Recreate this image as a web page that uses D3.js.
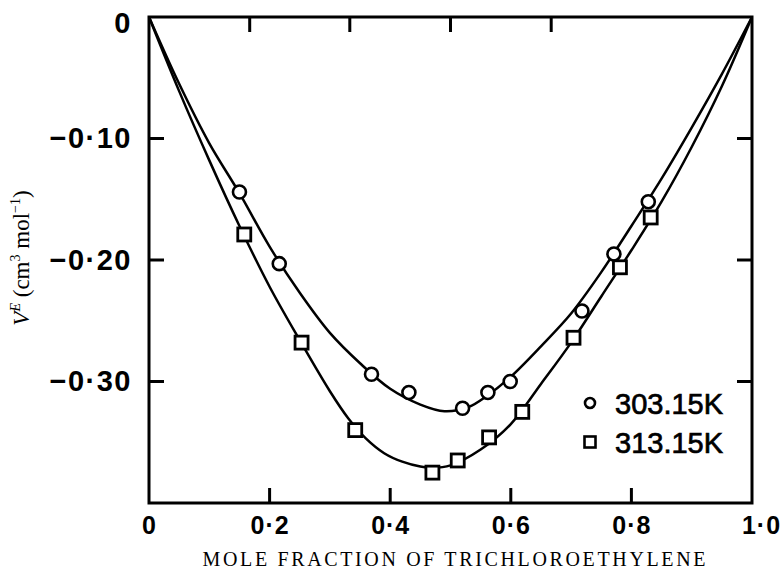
<!DOCTYPE html>
<html>
<head>
<meta charset="utf-8">
<script src="https://cdn.jsdelivr.net/npm/d3@7"></script>
<style>
  body { margin: 0; background: #fff; }
  svg { display: block; }
</style>
</head>
<body>
<script>
// puntos experimentales a 303.15 K (circulos)
var x303 = [0.150, 0.216, 0.369, 0.431, 0.520, 0.562, 0.599, 0.718, 0.771, 0.828];
var v303 = [-0.144, -0.203, -0.294, -0.309, -0.322, -0.309, -0.300, -0.242, -0.195, -0.152];

// puntos experimentales a 313.15 K (cuadrados)
var x313 = [0.158, 0.253, 0.342, 0.470, 0.512, 0.564, 0.619, 0.704, 0.781, 0.832];
var v313 = [-0.179, -0.268, -0.340, -0.375, -0.365, -0.346, -0.325, -0.264, -0.206, -0.165];

// curvas ajustadas
var curvaX303 = [0, 0.05, 0.10, 0.15, 0.20, 0.25, 0.30, 0.35, 0.40, 0.45, 0.49, 0.53, 0.56, 0.60, 0.65, 0.70, 0.75, 0.80, 0.85, 0.90, 0.95, 1.0];
var curvaV303 = [0, -0.055, -0.104, -0.145, -0.189, -0.227, -0.260, -0.285, -0.306, -0.319, -0.3245, -0.321, -0.312, -0.296, -0.271, -0.244, -0.210, -0.172, -0.133, -0.091, -0.047, 0];
var curvaX313 = [0, 0.05, 0.10, 0.15, 0.20, 0.25, 0.30, 0.33, 0.36, 0.39, 0.42, 0.45, 0.47, 0.50, 0.55, 0.60, 0.65, 0.70, 0.75, 0.80, 0.85, 0.90, 0.95, 1.0];
var curvaV313 = [0, -0.061, -0.118, -0.172, -0.222, -0.266, -0.308, -0.330, -0.347, -0.359, -0.366, -0.370, -0.371, -0.369, -0.356, -0.335, -0.302, -0.268, -0.230, -0.192, -0.152, -0.107, -0.057, 0];

// ejes
var ticksX = [0, 0.2, 0.4, 0.6, 0.8, 1.0];
var etiquetasX = ["0", "0\u00b72", "0\u00b74", "0\u00b76", "0\u00b78", "1\u00b70"];
var ticksY = [0, -0.1, -0.2, -0.3];
var etiquetasY = ["0", "\u22120\u00b710", "\u22120\u00b720", "\u22120\u00b730"];
var ticksArriba = [0.167, 0.333, 0.5, 0.667];
var leyenda = ["303.15K", "313.15K"];

var width = 782;
var height = 572;

var margen = {
    arriba: 17,
    abajo: 69,
    izquierda: 149,
    derecha: 30
};

var escalaX = d3.scaleLinear()
    .domain([0, 1])
    .range([margen.izquierda, width - margen.derecha]);

var escalaY = d3.scaleLinear()
    .domain([-0.4, 0])
    .range([height - margen.abajo, margen.arriba]);

var svg = d3.select("body")
    .append("svg")
    .attr("width", width)
    .attr("height", height)
    .style("background", "#fff");

var fuenteTicks = "'Liberation Sans', Arial, sans-serif";
var largoTick = 15;

var izq = escalaX(0), der = escalaX(1);
var abajo = escalaY(-0.4), arriba = escalaY(0);

// marco
svg.append("rect")
    .attr("x", izq)
    .attr("y", arriba)
    .attr("width", der - izq)
    .attr("height", abajo - arriba)
    .attr("fill", "none")
    .attr("stroke", "#000")
    .attr("stroke-width", 3);

// ticks hacia dentro, izquierda y derecha
svg.selectAll(".tickIzq")
    .data(ticksY.slice(1))
    .join("line")
    .attr("class", "tickIzq")
    .attr("x1", izq)
    .attr("x2", izq + largoTick)
    .attr("y1", function(d){ return escalaY(d); })
    .attr("y2", function(d){ return escalaY(d); })
    .attr("stroke", "#000")
    .attr("stroke-width", 3);

svg.selectAll(".tickDer")
    .data(ticksY.slice(1))
    .join("line")
    .attr("class", "tickDer")
    .attr("x1", der)
    .attr("x2", der - largoTick)
    .attr("y1", function(d){ return escalaY(d); })
    .attr("y2", function(d){ return escalaY(d); })
    .attr("stroke", "#000")
    .attr("stroke-width", 3);

// ticks abajo y arriba
svg.selectAll(".tickAbajo")
    .data(ticksX.slice(1, -1))
    .join("line")
    .attr("class", "tickAbajo")
    .attr("x1", function(d){ return escalaX(d); })
    .attr("x2", function(d){ return escalaX(d); })
    .attr("y1", abajo)
    .attr("y2", abajo - largoTick)
    .attr("stroke", "#000")
    .attr("stroke-width", 3);

svg.selectAll(".tickArriba")
    .data(ticksArriba)
    .join("line")
    .attr("class", "tickArriba")
    .attr("x1", function(d){ return escalaX(d); })
    .attr("x2", function(d){ return escalaX(d); })
    .attr("y1", arriba)
    .attr("y2", arriba + largoTick)
    .attr("stroke", "#000")
    .attr("stroke-width", 3);

// etiquetas de ejes
var ejeY = d3.axisLeft(escalaY)
    .tickValues(ticksY)
    .tickSize(0)
    .tickPadding(17)
    .tickFormat(function(d, i){ return etiquetasY[i]; });
var gY = svg.append("g")
    .attr("transform", "translate(" + margen.izquierda + ",0)")
    .call(ejeY);

var ejeX = d3.axisBottom(escalaX)
    .tickValues(ticksX)
    .tickSize(0)
    .tickPadding(13)
    .tickFormat(function(d, i){ return etiquetasX[i]; });
var gX = svg.append("g")
    .attr("transform", "translate(0," + (height - margen.abajo) + ")")
    .call(ejeX);

gY.select(".domain").remove();
gX.select(".domain").remove();

gY.selectAll(".tick text")
    .attr("fill", "#000")
    .attr("dy", function(d){ return d === 0 ? "0.55em" : "0.32em"; })
    .style("font-family", fuenteTicks)
    .style("font-weight", "bold")
    .style("font-size", "29px")
    .style("letter-spacing", "1.5px");

gX.selectAll(".tick text")
    .attr("fill", "#000")
    .attr("dx", function(d){ return d === 1 ? 9 : 0; })
    .style("font-family", fuenteTicks)
    .style("font-weight", "bold")
    .style("font-size", "25px")
    .style("letter-spacing", "1px");

// titulos de ejes
svg.append("text")
    .attr("x", 454)
    .attr("y", 566)
    .attr("text-anchor", "middle")
    .attr("textLength", 503)
    .attr("lengthAdjust", "spacing")
    .style("font-family", "'Liberation Serif', 'Times New Roman', serif")
    .style("font-size", "20px")
    .text("MOLE FRACTION OF TRICHLOROETHYLENE");

var tituloY = svg.append("text")
    .attr("transform", "translate(29,258) rotate(-90)")
    .attr("text-anchor", "middle")
    .style("font-family", "'Liberation Serif', 'Times New Roman', serif")
    .style("font-size", "23px");
tituloY.append("tspan").style("font-style", "italic").text("V");
tituloY.append("tspan").style("font-style", "italic").style("font-size", "14px").attr("dy", -9).text("E");
tituloY.append("tspan").attr("dy", 9).text(" (cm");
tituloY.append("tspan").style("font-size", "14px").attr("dy", -9).text("3");
tituloY.append("tspan").attr("dy", 9).text(" mol");
tituloY.append("tspan").style("font-size", "14px").attr("dy", -9).text("\u22121");
tituloY.append("tspan").attr("dy", 9).text(")");

// curvas
var linea = d3.line()
    .x(function(d){ return escalaX(d[0]); })
    .y(function(d){ return escalaY(d[1]); })
    .curve(d3.curveCatmullRom.alpha(0.5));

var curvas = [d3.zip(curvaX303, curvaV303), d3.zip(curvaX313, curvaV313)];

svg.selectAll(".curva")
    .data(curvas)
    .join("path")
    .attr("class", "curva")
    .attr("d", linea)
    .attr("fill", "none")
    .attr("stroke", "#000")
    .attr("stroke-width", 2.5);

// marcadores
svg.selectAll(".circulo")
    .data(d3.zip(x303, v303))
    .join("circle")
    .attr("class", "circulo")
    .attr("cx", function(d){ return escalaX(d[0]); })
    .attr("cy", function(d){ return escalaY(d[1]); })
    .attr("r", 6.5)
    .attr("fill", "#fff")
    .attr("stroke", "#000")
    .attr("stroke-width", 2.6);

var lado = 13;
svg.selectAll(".cuadrado")
    .data(d3.zip(x313, v313))
    .join("rect")
    .attr("class", "cuadrado")
    .attr("x", function(d){ return escalaX(d[0]) - lado / 2; })
    .attr("y", function(d){ return escalaY(d[1]) - lado / 2; })
    .attr("width", lado)
    .attr("height", lado)
    .attr("fill", "#fff")
    .attr("stroke", "#000")
    .attr("stroke-width", 2.8);

// leyenda
var gLeyenda = svg.append("g").attr("transform", "translate(590,403)");

gLeyenda.append("circle")
    .attr("cx", 0)
    .attr("cy", 0)
    .attr("r", 5)
    .attr("fill", "#fff")
    .attr("stroke", "#000")
    .attr("stroke-width", 2.6);

gLeyenda.append("rect")
    .attr("x", -5.5)
    .attr("y", 39 - 5.5)
    .attr("width", 11)
    .attr("height", 11)
    .attr("fill", "#fff")
    .attr("stroke", "#000")
    .attr("stroke-width", 2.6);

gLeyenda.selectAll(".textoLeyenda")
    .data(leyenda)
    .join("text")
    .attr("class", "textoLeyenda")
    .attr("x", 25)
    .attr("y", function(d, i){ return i * 39 + 10.5; })
    .attr("fill", "#000")
    .attr("stroke", "#000")
    .attr("stroke-width", 0.7)
    .style("font-family", fuenteTicks)
    .style("font-size", "29px")
    .text(function(d){ return d; });
</script>
</body>
</html>
